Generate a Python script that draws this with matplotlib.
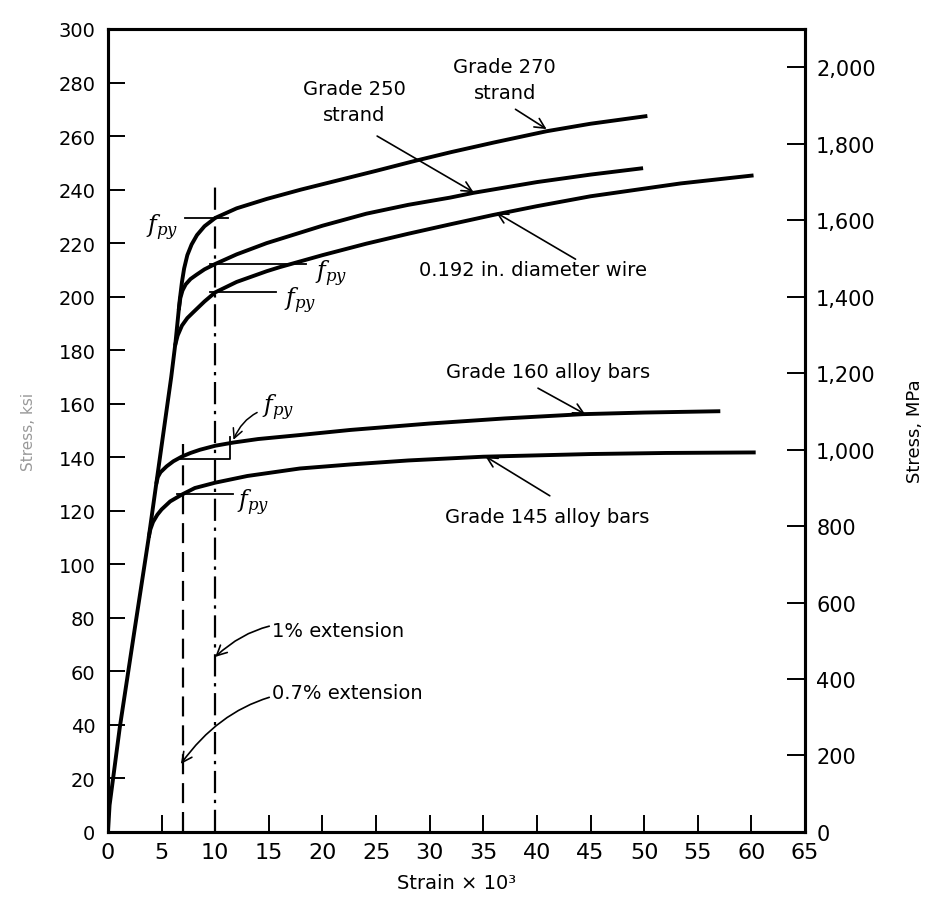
import numpy as np
import matplotlib
matplotlib.use("Agg")
import matplotlib.pyplot as plt

plt.rcParams['font.family'] = ['DejaVu Sans']
plt.rcParams['mathtext.fontset'] = 'dejavuserif'

# stress-strain curves (strain x 10^3, stress in ksi)
g270_strain = [0, 0.15, 1.1, 2.5, 3.8, 4.5, 5.2, 5.9, 6.3, 6.5, 6.7, 6.9, 7.1, 7.4, 7.8, 8.3, 9.0, 10, 12, 14.8, 18, 21, 25, 28.5, 32, 36, 40.9, 45, 50.3]
g270_stress = [0, 10, 39, 76, 110, 130, 150, 170, 183, 191, 199, 205.5, 210.5, 215.5, 219.5, 223, 226.3, 229.4, 233, 236.5, 240, 243, 247, 250.6, 254, 257.6, 261.8, 264.6, 267.5]

g250_strain = [6.6, 6.75, 6.95, 7.25, 7.7, 8.26, 9.0, 10, 12, 14.8, 16, 20, 24.1, 28, 31.9, 34.1, 40, 45, 49.9]
g250_stress = [195, 199.5, 202.3, 204.6, 206.6, 208.2, 210.2, 212.2, 215.8, 220, 221.5, 226.5, 231, 234.3, 237, 238.8, 242.8, 245.6, 248]

wire_strain = [6.25, 6.5, 6.9, 7.4, 7.96, 9.0, 10, 12, 14.8, 16, 20, 24.1, 28, 31.9, 35.9, 40, 45, 53.4, 60.2]
wire_stress = [181.6, 185.5, 189.2, 192, 194.2, 198.2, 201.6, 205.5, 209.5, 211, 215.5, 219.8, 223.5, 227, 230.5, 233.8, 237.5, 242.3, 245.3]

g160_strain = [4.5, 4.65, 4.9, 5.47, 6.1, 6.87, 7.7, 8.58, 10, 11.7, 14, 17.9, 22.6, 30, 37, 44.3, 50, 57.1]
g160_stress = [130, 132.6, 134.4, 136.6, 138.5, 140.2, 141.6, 142.8, 144.3, 145.5, 146.8, 148.3, 150.2, 152.6, 154.5, 156.1, 156.7, 157.2]

g145_strain = [3.8, 3.95, 4.2, 4.6, 5.0, 5.8, 6.87, 8.1, 10, 13, 17.9, 22.6, 28, 35, 45, 52, 60.4]
g145_stress = [110, 113, 115.8, 118.5, 120.5, 123.5, 126, 128.5, 130.5, 133, 135.8, 137.3, 138.8, 140.2, 141.2, 141.6, 141.8]

# yield-point construction lines: (strain from, strain to, stress)
fpy_270 = (7.2, 11.2, 229.5)
fpy_250 = (9.5, 18.5, 212.2)
fpy_wire = (9.5, 15.7, 201.6)
fpy_160 = (6.4, 11.4, 139.5, 147.6)
fpy_145 = (6.4, 11.7, 126.3)

ext_07 = (7, 145)    # 0.7% extension line: strain, top stress
ext_10 = (10, 241)   # 1% extension line

MPA_PER_KSI = 7.0
xticks = np.arange(0, 66, 5)
yticks_ksi = np.arange(0, 301, 20)
yticks_mpa = np.arange(0, 2001, 200)

fig = plt.figure(figsize=(9.34, 9.2), dpi=100)
ax = fig.add_axes([0.1156, 0.0946, 0.7463, 0.8728])

lw = 2.8
for s, f in [(g270_strain, g270_stress), (g250_strain, g250_stress), (wire_strain, wire_stress),
             (g160_strain, g160_stress), (g145_strain, g145_stress)]:
    ax.plot(s, f, color='black', lw=lw, solid_capstyle='butt', solid_joinstyle='round')

# extension lines
ax.plot([ext_07[0], ext_07[0]], [0, ext_07[1]], color='black', lw=1.6, linestyle=(0, (9, 4)))
ax.plot([ext_10[0], ext_10[0]], [0, ext_10[1]], color='black', lw=1.6, linestyle=(0, (10, 3, 1.5, 3)))

# f_py construction lines
for a, b, f in [fpy_270, fpy_250, fpy_wire, fpy_145]:
    ax.plot([a, b], [f, f], color='black', lw=1.3)
ax.plot([fpy_160[0], fpy_160[1], fpy_160[1]], [fpy_160[2], fpy_160[2], fpy_160[3]], color='black', lw=1.3)

fs = 14
fpy = r'$f_{py}$'
ax.text(6.6, 226, fpy, fontsize=17, ha='right', va='center')
ax.text(19.3, 209, fpy, fontsize=17, ha='left', va='center')
ax.text(16.4, 199, fpy, fontsize=17, ha='left', va='center')
ax.text(12.0, 123.5, fpy, fontsize=17, ha='left', va='center')
ax.annotate(fpy, xy=(11.7, 146.5), xytext=(14.4, 159), fontsize=17, ha='left', va='center',
            arrowprops=dict(arrowstyle='->', lw=1.1, color='black', shrinkA=2, shrinkB=0,
                            connectionstyle='arc3,rad=0.3'))

arrow = dict(arrowstyle='->', lw=1.2, color='black', shrinkA=0, shrinkB=0,
             mutation_scale=18)
ax.text(37, 281, 'Grade 270\nstrand', fontsize=fs, ha='center', va='center', linespacing=1.45)
ax.annotate('', xy=(40.9, 262.6), xytext=(38.0, 270), arrowprops=arrow)
ax.text(23, 273, 'Grade 250\nstrand', fontsize=fs, ha='center', va='center', linespacing=1.45)
ax.annotate('', xy=(34.1, 239), xytext=(25.1, 260), arrowprops=arrow)
ax.text(29.0, 210, '0.192 in. diameter wire', fontsize=fs, ha='left', va='center')
ax.annotate('', xy=(36.2, 231.4), xytext=(43.6, 214), arrowprops=arrow)
ax.text(41, 172, 'Grade 160 alloy bars', fontsize=fs, ha='center', va='center')
ax.annotate('', xy=(44.5, 156.1), xytext=(40.1, 165.8), arrowprops=arrow)
ax.text(41, 118, 'Grade 145 alloy bars', fontsize=fs, ha='center', va='center')
ax.annotate('', xy=(35.2, 140.3), xytext=(41.2, 125.6), arrowprops=arrow)

curved = dict(arrowstyle='->', lw=1.2, color='black', shrinkA=0, shrinkB=0,
              mutation_scale=18, connectionstyle='arc3,rad=0.3')
ax.annotate('1% extension', xy=(10.0, 65.4), xytext=(15.3, 75.2), fontsize=fs,
            ha='left', va='center', arrowprops=curved)
ax.annotate('0.7% extension', xy=(6.8, 25.4), xytext=(15.3, 52.2), fontsize=fs,
            ha='left', va='center', arrowprops=curved)

ax.set_xlim(0, 65)
ax.set_ylim(0, 300)
ax.set_xticks(xticks)
ax.set_yticks(yticks_ksi)
ax.tick_params(axis='x', direction='in', length=12, width=1.4, pad=7, labelsize=16)
ax.tick_params(axis='y', direction='in', length=12, width=1.4, pad=9, labelsize=14)
for sp in ax.spines.values():
    sp.set_linewidth(2.2)

ax2 = ax.twinx()
ax2.set_ylim(0, 300 * MPA_PER_KSI)
ax2.set_yticks(yticks_mpa)
ax2.set_yticklabels([f'{v:,}' for v in yticks_mpa])
ax2.tick_params(axis='y', direction='in', length=13, width=1.4, pad=8, labelsize=15)
for sp in ax2.spines.values():
    sp.set_linewidth(2.2)

ax.set_xlabel('Strain × 10³', fontsize=14, labelpad=8)
ax2.set_ylabel('Stress, MPa', fontsize=13, labelpad=22)
ax.set_ylabel('Stress, ksi', fontsize=11, color='0.6', labelpad=16)

fig.savefig('out.png', dpi=100)
